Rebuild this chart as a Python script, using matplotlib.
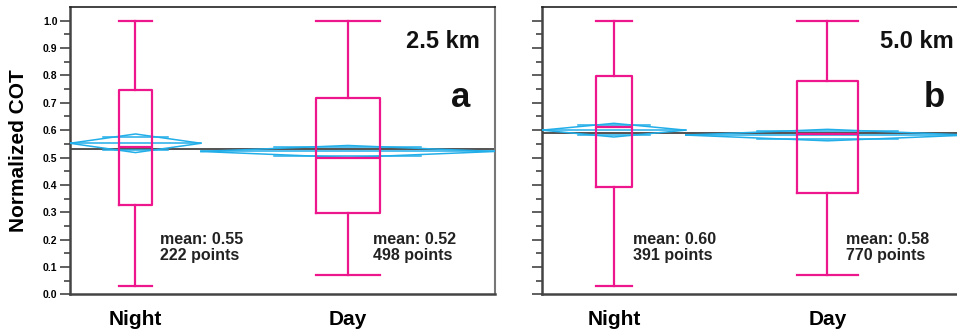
import matplotlib
matplotlib.use("Agg")
import matplotlib.pyplot as plt
import numpy as np

plt.rcParams['font.family'] = ['Liberation Sans', 'DejaVu Sans']

groups = ['Night', 'Day']

# panel a : 2.5 km
counts_a = [222, 498]
means_a = [0.552, 0.522]
ci_a = [0.034, 0.022]
whislo_a = [0.03, 0.07]
q1_a = [0.326, 0.296]
med_a = [0.540, 0.497]
q3_a = [0.747, 0.716]
whishi_a = [1.0, 1.0]

# panel b : 5.0 km
counts_b = [391, 770]
means_b = [0.600, 0.582]
ci_b = [0.025, 0.021]
whislo_b = [0.03, 0.07]
q1_b = [0.393, 0.371]
med_b = [0.612, 0.587]
q3_b = [0.798, 0.781]
whishi_b = [1.0, 1.0]

PINK = '#ee168c'
BLUE = '#22aee8'
box_frac = [0.245, 0.215]


def draw_panel(ax, counts, means, ci, whislo, q1, med, q3, whishi, height, letter):
    counts = np.array(counts, dtype=float)
    edges = np.concatenate([[0], np.cumsum(counts)])
    centers = (edges[:-1] + edges[1:]) / 2
    total = edges[-1]

    # grand mean
    grand = np.sum(np.array(means) * counts) / total
    ax.axhline(grand, color='#444444', lw=1.3, zorder=2)

    # means diamonds
    for i in range(len(counts)):
        l, r, c = edges[i], edges[i + 1], centers[i]
        m, h = means[i], ci[i]
        ax.plot([l, c, r, c, l], [m, m + h, m, m - h, m], color=BLUE, lw=1.1, zorder=3)
        ax.plot([l, r], [m, m], color=BLUE, lw=1.1, zorder=3)
        w = (r - l) * 0.25
        for s in (1, -1):
            ax.plot([c - w, c + w], [m + s * h / np.sqrt(2)] * 2, color=BLUE, lw=1.1, zorder=3)

    # box plots
    stats = []
    for i in range(len(counts)):
        stats.append(dict(whislo=whislo[i], q1=q1[i], med=med[i], q3=q3[i], whishi=whishi[i]))
    widths = [(edges[i + 1] - edges[i]) * box_frac[i] for i in range(len(counts))]
    lp = dict(color=PINK, lw=1.6)
    ax.bxp(stats, positions=centers, widths=widths, capwidths=widths, showfliers=False,
           boxprops=lp, whiskerprops=lp, capprops=lp, medianprops=lp,
           manage_ticks=False, zorder=4)

    # annotations
    text_x = [0.212, 0.713]
    for i in range(len(counts)):
        ax.text(text_x[i], 0.218, f"mean: {means[i]:.2f}\n{int(counts[i])} points",
                transform=ax.transAxes, ha='left', va='top', fontsize=11.5,
                fontweight='bold', color='#222222', linespacing=1.1)
    ax.text(0.964, 0.858, height, transform=ax.transAxes, ha='right', va='baseline',
            fontsize=17, fontweight='bold', color='#111111')
    ax.text(0.943, 0.652, letter, transform=ax.transAxes, ha='right', va='baseline',
            fontsize=25, fontweight='bold', color='#111111')

    ax.set_xlim(0, total)
    ax.set_ylim(0, 1.049)
    ax.set_xticks(centers)
    ax.set_xticklabels(groups, fontsize=15, fontweight='bold')
    ax.tick_params(axis='x', length=0, pad=11)
    ax.set_yticks(np.arange(0, 1.01, 0.1))
    ax.set_yticks(np.arange(0.05, 1.0, 0.1), minor=True)
    ax.tick_params(axis='y', which='major', length=7, width=1.2, color='#444444', pad=2)
    ax.tick_params(axis='y', which='minor', length=4, width=1.2, color='#444444')
    for side in ('left', 'bottom'):
        ax.spines[side].set_color('#444444')
        ax.spines[side].set_linewidth(1.8)
    ax.spines['top'].set_color('#222222')
    ax.spines['top'].set_linewidth(1.2)
    ax.spines['right'].set_color('#777777')
    ax.spines['right'].set_linewidth(1.5)


fig = plt.figure(figsize=(9.57, 3.34), dpi=100)
ax1 = fig.add_axes([0.0731, 0.119, 0.444, 0.859])
ax2 = fig.add_axes([0.5664, 0.119, 0.446, 0.859])

draw_panel(ax1, counts_a, means_a, ci_a, whislo_a, q1_a, med_a, q3_a, whishi_a, '2.5 km', 'a')
draw_panel(ax2, counts_b, means_b, ci_b, whislo_b, q1_b, med_b, q3_b, whishi_b, '5.0 km', 'b')

ax1.set_yticklabels([f"{v:.1f}" for v in np.arange(0, 1.01, 0.1)], fontsize=7.5, fontweight='bold')
ax1.set_ylabel('Normalized COT', fontsize=15, fontweight='bold')
ax1.yaxis.set_label_coords(-0.099, 0.5)
ax2.set_yticklabels([])

fig.savefig('out.png', dpi=100)
